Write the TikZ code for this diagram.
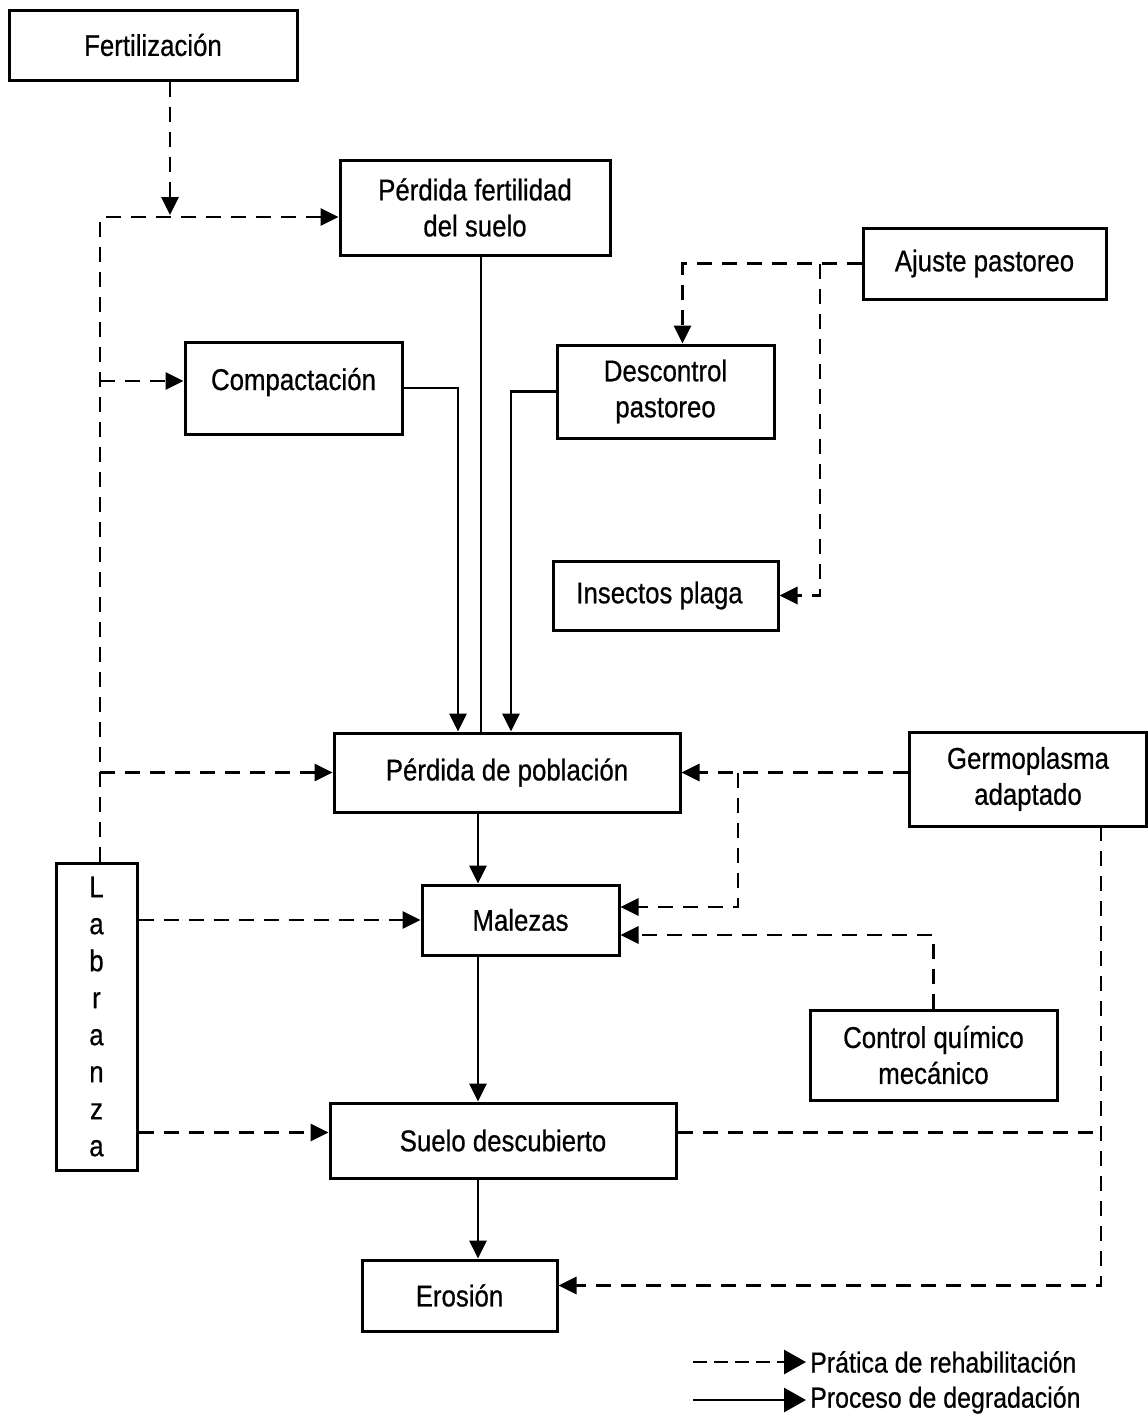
\documentclass[tikz,border=0pt]{standalone}
\usepackage{fontspec}
\setmainfont{Liberation Sans}[FakeStretch=0.86,FakeBold=0.6]
\usetikzlibrary{arrows.meta}
\begin{document}
\begin{tikzpicture}[x=1pt,y=-1pt,
  box/.style={draw, line width=3pt, rectangle, inner sep=0pt, align=center,
    font=\fontsize{30}{36}\selectfont},
  sol/.style={line width=2.8pt},
  dsh/.style={line width=2.8pt, dash pattern=on 15pt off 10pt},
  tip/.style={-{Triangle[length=18pt,width=17pt]}}
]
\useasboundingbox (0,0) rectangle (1148,1419);

% boxes
\node[box, minimum width=288pt, minimum height=70pt] (fert) at (153,45) {Fertilización};
\node[box, minimum width=270pt, minimum height=95pt] (pfs) at (475,207.5) {Pérdida fertilidad\\del suelo};
\node[box, minimum width=243pt, minimum height=71pt] (ajuste) at (984.5,263.5) {Ajuste pastoreo};
\node[box, minimum width=217pt, minimum height=92pt, text height=22pt, text depth=18pt] (compac) at (293.5,388) {Compactación};
\node[box, minimum width=217pt, minimum height=93pt] (descon) at (665.5,391.5) {Descontrol\\pastoreo};
\node[box, minimum width=225pt, minimum height=69pt] (insect) at (665.5,595.5) {\hspace*{-12pt}Insectos plaga};
\node[box, minimum width=346pt, minimum height=79pt] (pdp) at (507,772.5) {Pérdida de población};
\node[box, minimum width=237pt, minimum height=94pt] (germ) at (1028,779) {Germoplasma\\adaptado};
\node[box, minimum width=81pt, minimum height=307pt, font=\fontsize{30}{37}\selectfont] (lab) at (96.5,1016.5) {L\\a\\b\\r\\a\\n\\z\\a};
\node[box, minimum width=197pt, minimum height=70pt] (malezas) at (520.5,920) {Malezas};
\node[box, minimum width=247pt, minimum height=90pt] (control) at (933.5,1055) {Control químico\\mecánico};
\node[box, minimum width=346pt, minimum height=75pt] (suelo) at (503,1140.5) {Suelo descubierto};
\node[box, minimum width=195pt, minimum height=71pt] (erosion) at (459.5,1295.5) {Erosión};

% helper coordinates
\coordinate (jf) at (170,217);
\coordinate (ta) at (820,263.5);
\coordinate (tg) at (738,772.5);
\coordinate (gd) at (1101,826);
\coordinate (cx) at (478,0);
\coordinate (fx) at (481,0);
\coordinate (lx) at (100,0);

% rehabilitation (dashed)
\draw[dsh,tip] (fert.south -| jf) -- ([yshift=2pt]jf);
\draw[dsh,tip] (lab.north -| lx) |- ([yshift=-9.5pt]pfs.west);
\draw[dsh,tip] ([yshift=7pt]compac.west -| lx) -- ([yshift=7pt]compac.west);
\draw[dsh,tip] (pdp.west -| lx) -- (pdp.west);
\draw[dsh,tip] (lab.east |- malezas.west) -- (malezas.west);
\draw[dsh,tip] ([yshift=8pt]lab.east |- suelo.west) -- ([yshift=8pt]suelo.west);
\draw[dsh,tip] (ajuste.west) -| ([xshift=17pt]descon.north);
\draw[dsh,tip] (ta) |- (insect.east);
\draw[dsh,tip] (germ.west |- pdp.east) -- (pdp.east);
\draw[dsh,tip] (tg) |- ([yshift=13pt]malezas.east);
\draw[dsh,tip] (control.north) |- ([yshift=-15pt]malezas.east);
\draw[dsh,tip] (gd) |- ([yshift=10pt]erosion.east);
\draw[dsh] ([yshift=8pt]suelo.east) -- ([yshift=8pt]suelo.east -| gd);

% degradation (solid)
\draw[sol] (pfs.south -| fx) -- (pdp.north -| fx);
\draw[sol,tip] (compac.east) -| ([xshift=-49pt]pdp.north);
\draw[sol,tip] (descon.west) -| ([xshift=4pt]pdp.north);
\draw[sol,tip] (pdp.south -| cx) -- (malezas.north -| cx);
\draw[sol,tip] (malezas.south -| cx) -- (suelo.north -| cx);
\draw[sol,tip] (suelo.south -| cx) -- (erosion.north -| cx);

% legend
\coordinate (la) at (693,1362);
\coordinate (lb) at (693,1400);
\node[anchor=west, inner sep=0pt, font=\fontsize{29}{34}\selectfont] (leg1) at (810,1362) {Prática de rehabilitación};
\node[anchor=west, inner sep=0pt, font=\fontsize{29}{34}\selectfont] (leg2) at (810,1400) {Proceso de degradación};
\draw[dsh, dash pattern=on 14pt off 7pt, -{Triangle[length=22pt,width=24pt]}] (la) -- ([xshift=-4pt]leg1.west);
\draw[sol, -{Triangle[length=22pt,width=24pt]}] (lb) -- ([xshift=-4pt]leg2.west);
\end{tikzpicture}
\end{document}
